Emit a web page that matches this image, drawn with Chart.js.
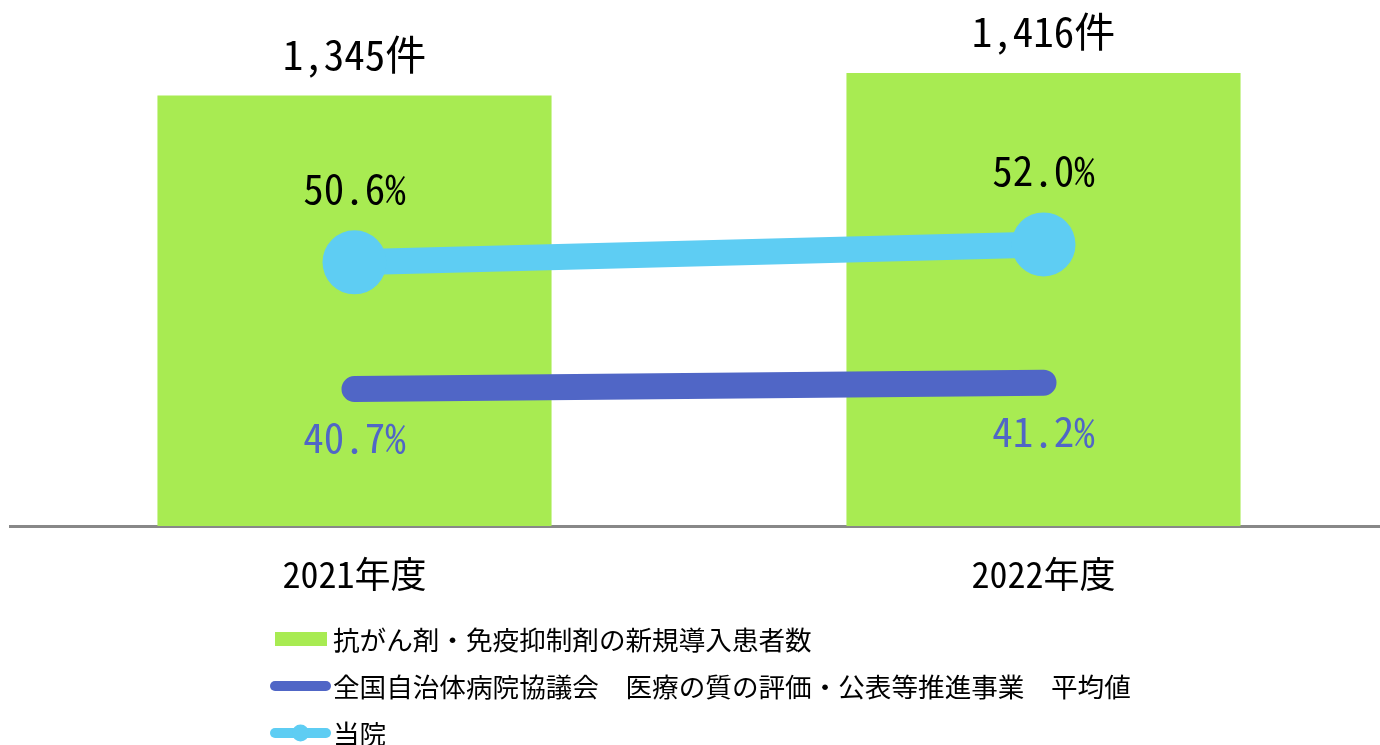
<!DOCTYPE html>
<html lang="ja">
<head>
<meta charset="utf-8">
<script src="https://cdn.jsdelivr.net/npm/chart.js@4/dist/chart.umd.min.js"></script>
<style>
  html, body { margin: 0; padding: 0; background: #ffffff; overflow: hidden; }
  #wrap { width: 1380px; height: 745px; overflow: hidden; }
</style>
</head>
<body>
<div id="wrap"><canvas id="c" width="1388" height="745"></canvas></div>
<script>
const categories = ['2021年度', '2022年度'];
const patientCounts = [1345, 1416];
const nationalAverage = [40.7, 41.2];
const hospitalRate = [50.6, 52.0];
const seriesLabels = [
  '抗がん剤・免疫抑制剤の新規導入患者数',
  '全国自治体病院協議会　医療の質の評価・公表等推進事業　平均値',
  '当院'
];

const GREEN = '#A8EB52';
const DARK = '#5066C6';
const LIGHT = '#5ECDF3';
const FONT = '"Noto Sans Mono CJK JP", "Noto Sans CJK JP", sans-serif';

function fmtCount(v) { return v.toLocaleString('en-US') + '件'; }
function fmtPct(v) { return v.toFixed(1) + '%'; }

const labelPlugin = {
  id: 'labelPlugin',
  afterDatasetsDraw(chart) {
    const ctx = chart.ctx;
    ctx.save();
    ctx.textAlign = 'center';
    ctx.textBaseline = 'alphabetic';
    const barMeta = chart.getDatasetMeta(0);
    ctx.font = '41px ' + FONT;
    ctx.fillStyle = '#000000';
    barMeta.data.forEach((el, i) => {
      ctx.fillText(fmtCount(patientCounts[i]), el.x, el.y - 26);
    });
    const hMeta = chart.getDatasetMeta(2);
    hMeta.data.forEach((el, i) => {
      ctx.fillStyle = '#000000';
      ctx.fillText(fmtPct(hospitalRate[i]), el.x, el.y - 58);
    });
    const nMeta = chart.getDatasetMeta(1);
    nMeta.data.forEach((el, i) => {
      ctx.fillStyle = DARK;
      ctx.fillText(fmtPct(nationalAverage[i]), el.x, el.y + 64);
    });
    ctx.restore();
  },
  afterDraw(chart) {
    const ctx = chart.ctx;
    const xScale = chart.scales.x;
    ctx.save();
    ctx.font = '36px ' + FONT;
    ctx.fillStyle = '#000000';
    ctx.textAlign = 'center';
    ctx.textBaseline = 'alphabetic';
    categories.forEach((c, i) => {
      ctx.fillText(c, xScale.getPixelForValue(i), 588);
    });
    const rows = [639, 686, 733];
    ctx.font = '26.6px ' + FONT;
    ctx.textAlign = 'left';
    ctx.textBaseline = 'middle';
    const ds = chart.data.datasets;
    ctx.fillStyle = ds[0].backgroundColor;
    ctx.fillRect(275, rows[0] - 7, 52, 14);
    [1, 2].forEach((k) => {
      const y = rows[k];
      ctx.strokeStyle = ds[k].borderColor;
      ctx.lineWidth = 10;
      ctx.lineCap = 'round';
      ctx.beginPath();
      ctx.moveTo(275, y);
      ctx.lineTo(326, y);
      ctx.stroke();
      if (ds[k].pointRadius > 0) {
        ctx.fillStyle = ds[k].borderColor;
        ctx.beginPath();
        ctx.arc(300.5, y, 8.5, 0, Math.PI * 2);
        ctx.fill();
      }
    });
    ctx.fillStyle = '#000000';
    ds.forEach((d, k) => {
      ctx.fillText(d.label, 333, rows[k] + 1);
    });
    ctx.restore();
  }
};

new Chart(document.getElementById('c'), {
  type: 'bar',
  data: {
    labels: categories,
    datasets: [
      {
        type: 'bar', label: seriesLabels[0], data: patientCounts,
        backgroundColor: GREEN, yAxisID: 'y', order: 3,
        barPercentage: 0.572, categoryPercentage: 1
      },
      {
        type: 'line', label: seriesLabels[1], data: nationalAverage,
        borderColor: DARK, backgroundColor: DARK, borderWidth: 26,
        borderCapStyle: 'round', pointRadius: 0, pointHoverRadius: 0,
        yAxisID: 'y1', order: 2, fill: false
      },
      {
        type: 'line', label: seriesLabels[2], data: hospitalRate,
        borderColor: LIGHT, backgroundColor: LIGHT, borderWidth: 26,
        pointRadius: 32, pointBackgroundColor: LIGHT, pointBorderWidth: 0,
        yAxisID: 'y1', order: 1, fill: false
      }
    ]
  },
  options: {
    responsive: false,
    animation: false,
    devicePixelRatio: 1,
    layout: { autoPadding: false, padding: { top: 14, left: 10, right: 0, bottom: 0 } },
    plugins: { legend: { display: false }, tooltip: { enabled: false } },
    scales: {
      x: {
        grid: { display: false },
        border: { color: '#888888', width: 3 },
        ticks: { display: false },
        afterFit(axis) { axis.height = 219; }
      },
      y: { display: false, min: 0, max: 1600 },
      y1: { display: false, min: 30, max: 70, position: 'right' }
    }
  },
  plugins: [labelPlugin]
});
</script>
</body>
</html>
